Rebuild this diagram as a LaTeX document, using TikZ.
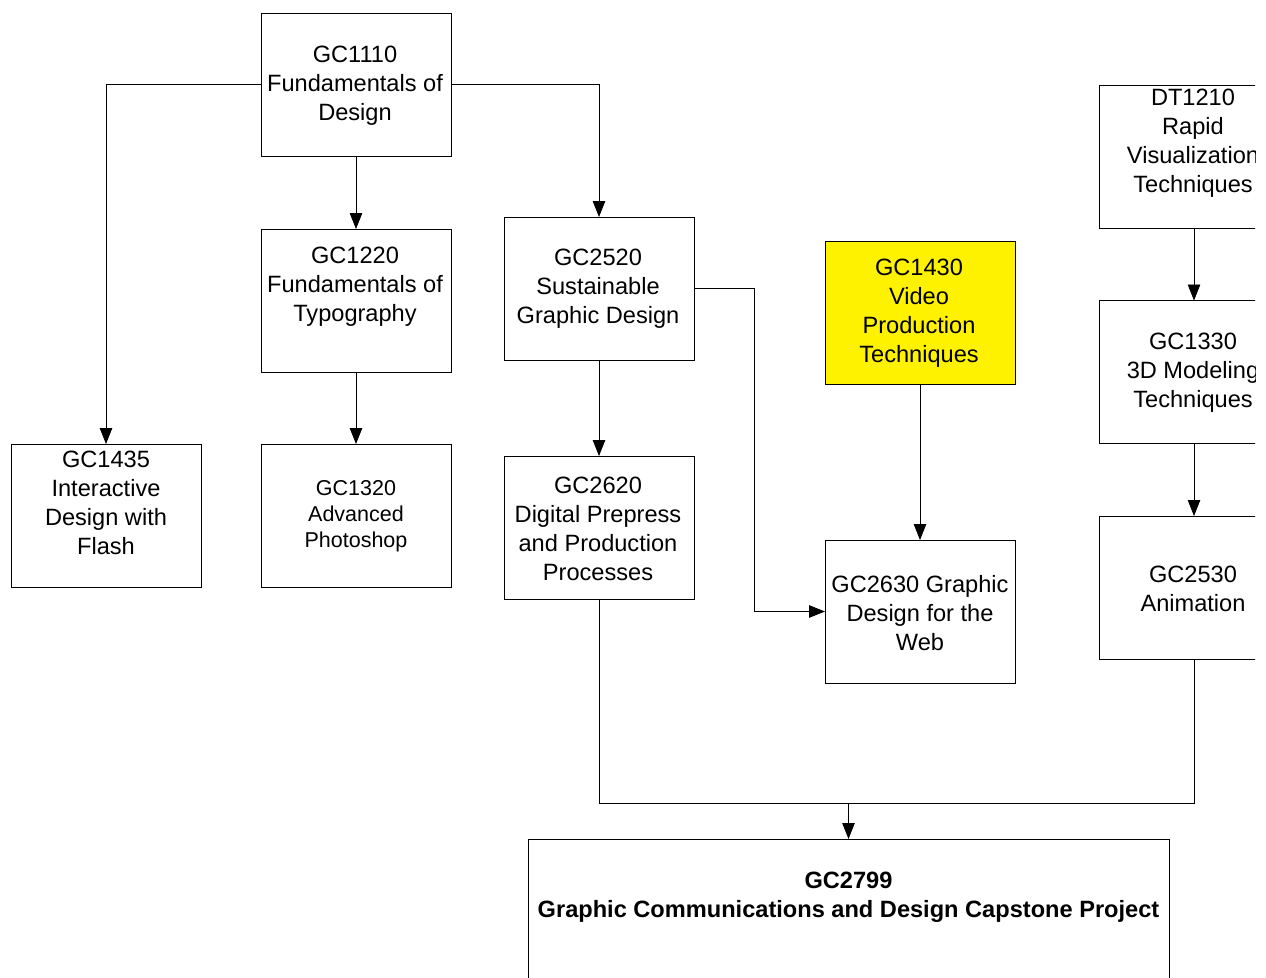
\documentclass[tikz,border=0pt]{standalone}
\usepackage{fontspec}
\setmainfont{Liberation Sans}
\usetikzlibrary{arrows.meta}
\begin{document}
\begin{tikzpicture}[x=1pt,y=-1pt,
  box/.style={draw=black, line width=0.9pt, minimum width=190pt, minimum height=143pt, inner sep=0pt, outer sep=0pt},
  txt/.style={align=center, inner sep=0pt, font=\fontsize{23.6}{29}\selectfont},
  smalltxt/.style={align=center, inner sep=0pt, font=\fontsize{21.5}{26}\selectfont},
  boldtxt/.style={align=center, inner sep=0pt, font=\fontsize{23.6}{29}\selectfont\bfseries},
  conn/.style={line width=0.8pt, draw=black},
  arr/.style={conn, -{Triangle[length=16pt,width=12.5pt]}}]
\useasboundingbox (0,0) rectangle (1266,977);
\clip (0,0) rectangle (1255,977);
% boxes
\node[box] (b1110) at (356,84.5) {};
\node[box] (b1220) at (356,300.5) {};
\node[box] (b1435) at (106,515.5) {};
\node[box] (b1320) at (356,515.5) {};
\node[box] (b2520) at (599,288.5) {};
\node[box] (b2620) at (599,527.5) {};
\node[box, fill=yellow] (b1430) at (920,312.5) {};
\node[box] (b2630) at (920,611.5) {};
\node[box] (dt1210) at (1194,156.5) {};
\node[box] (b1330) at (1194,372) {};
\node[box] (b2530) at (1194,587.5) {};
\node[box, minimum width=641pt, minimum height=200pt] (b2799) at (848.5,939) {};
% texts
\node[txt] (t1110) at (355,86) {GC1110\\Fundamentals of\\Design};
\node[txt] (t1220) at (355,287) {GC1220\\Fundamentals of\\Typography};
\node[txt] (t1435) at (106,503) {GC1435\\Interactive\\Design with\\Flash};
\node[smalltxt] (t1320) at (356,516) {GC1320\\Advanced\\Photoshop};
\node[txt] (t2520) at (598,289) {GC2520\\Sustainable\\Graphic Design};
\node[txt] (t2620) at (598,529) {GC2620\\Digital Prepress\\and Production\\Processes};
\node[txt] (t1430) at (919,313) {GC1430\\Video\\Production\\Techniques};
\node[txt] (t2630) at (920,613) {GC2630 Graphic\\Design for the\\Web};
\node[txt] (tdt1210) at (1193,143) {DT1210\\Rapid\\Visualization\\Techniques};
\node[txt] (t1330) at (1193,373) {GC1330\\3D Modeling\\Techniques};
\node[txt] (t2530) at (1193,589) {GC2530\\Animation};
\node[boldtxt] (t2799) at (848.5,897) {GC2799\\Graphic Communications and Design Capstone Project};
% connectors
\draw[arr] (b1110.west) -| (b1435.north);
\draw[arr] (b1110.east) -| (b2520.north);
\draw[arr] (b1110.south) -- (b1220.north);
\draw[arr] (b1220.south) -- (b1320.north);
\draw[arr] (b2520.south) -- (b2620.north);
\draw[arr] (b2520.east) -- ++(60,0) |- (b2630.west);
\draw[arr] (b1430.south) -- (b2630.north);
\draw[arr] (dt1210.south) -- (b1330.north);
\draw[arr] (b1330.south) -- (b2530.north);
\coordinate (j) at (848.5,803);
\draw[conn] (b2620.south) |- (j) -| (b2530.south);
\draw[arr] (j) -- (b2799.north);
\end{tikzpicture}
\end{document}
